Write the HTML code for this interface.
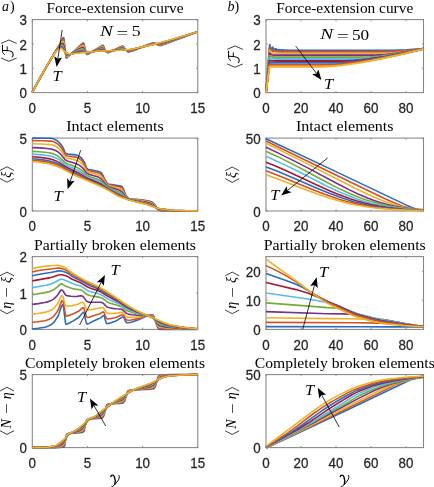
<!DOCTYPE html>
<html><head><meta charset="utf-8"><style>
html,body{margin:0;padding:0;background:#fff;}
svg{display:block;filter:blur(0.3px);}
.tk{font-family:"Liberation Sans",sans-serif;font-size:13.4px;fill:#262626;stroke:#262626;stroke-width:0.25px;}
.ti{font-family:"Liberation Serif",serif;font-size:14px;fill:#000;}
.ti2{font-family:"Liberation Serif",serif;fill:#000;}
.mi{font-family:"Liberation Serif",serif;font-style:italic;fill:#000;}
</style></head><body>
<svg width="434" height="487" viewBox="0 0 434 487">
<rect width="434" height="487" fill="#fff"/>
<rect x="32.30" y="19.60" width="165.45" height="73.00" fill="none" stroke="#858585" stroke-width="1.05"/>
<line x1="32.30" y1="92.60" x2="32.30" y2="91.00" stroke="#858585" stroke-width="0.9"/>
<line x1="32.30" y1="19.60" x2="32.30" y2="21.20" stroke="#858585" stroke-width="0.9"/>
<text transform="translate(32.30,112.70) scale(1,1.12)" class="tk" text-anchor="middle">0</text>
<line x1="87.45" y1="92.60" x2="87.45" y2="91.00" stroke="#858585" stroke-width="0.9"/>
<line x1="87.45" y1="19.60" x2="87.45" y2="21.20" stroke="#858585" stroke-width="0.9"/>
<text transform="translate(87.45,112.70) scale(1,1.12)" class="tk" text-anchor="middle">5</text>
<line x1="142.60" y1="92.60" x2="142.60" y2="91.00" stroke="#858585" stroke-width="0.9"/>
<line x1="142.60" y1="19.60" x2="142.60" y2="21.20" stroke="#858585" stroke-width="0.9"/>
<text transform="translate(142.60,112.70) scale(1,1.12)" class="tk" text-anchor="middle">10</text>
<line x1="197.75" y1="92.60" x2="197.75" y2="91.00" stroke="#858585" stroke-width="0.9"/>
<line x1="197.75" y1="19.60" x2="197.75" y2="21.20" stroke="#858585" stroke-width="0.9"/>
<text transform="translate(197.75,112.70) scale(1,1.12)" class="tk" text-anchor="middle">15</text>
<line x1="32.30" y1="92.60" x2="33.90" y2="92.60" stroke="#858585" stroke-width="0.9"/>
<line x1="197.75" y1="92.60" x2="196.15" y2="92.60" stroke="#858585" stroke-width="0.9"/>
<text transform="translate(26.90,98.20) scale(1,1.12)" class="tk" text-anchor="end">0</text>
<line x1="32.30" y1="68.27" x2="33.90" y2="68.27" stroke="#858585" stroke-width="0.9"/>
<line x1="197.75" y1="68.27" x2="196.15" y2="68.27" stroke="#858585" stroke-width="0.9"/>
<text transform="translate(26.90,73.87) scale(1,1.12)" class="tk" text-anchor="end">1</text>
<line x1="32.30" y1="43.93" x2="33.90" y2="43.93" stroke="#858585" stroke-width="0.9"/>
<line x1="197.75" y1="43.93" x2="196.15" y2="43.93" stroke="#858585" stroke-width="0.9"/>
<text transform="translate(26.90,49.53) scale(1,1.12)" class="tk" text-anchor="end">2</text>
<line x1="32.30" y1="19.60" x2="33.90" y2="19.60" stroke="#858585" stroke-width="0.9"/>
<line x1="197.75" y1="19.60" x2="196.15" y2="19.60" stroke="#858585" stroke-width="0.9"/>
<text transform="translate(26.90,25.20) scale(1,1.12)" class="tk" text-anchor="end">3</text>
<path d="M32.3,92.6L38.6,80.9L45.5,68.6L61.0,42.0L62.6,38.6L63.2,37.8L63.5,37.6L63.7,37.7L64.0,39.1L65.9,56.9L66.2,58.0L66.5,58.0L67.3,57.5L79.2,46.3L82.5,43.4L83.3,43.0L83.6,43.1L84.1,44.5L86.3,53.5L86.6,54.3L86.9,54.6L88.0,54.3L100.7,46.4L102.1,45.4L102.6,45.2L102.9,45.2L103.4,45.9L105.1,50.0L106.5,52.0L107.3,52.7L107.9,52.7L108.7,52.5L111.7,51.3L118.9,47.6L121.6,46.4L122.5,46.1L123.0,46.2L123.6,46.7L125.2,49.0L127.4,51.6L128.0,51.9L128.8,51.9L132.4,51.0L135.4,50.0L147.6,44.8L153.4,42.8L154.2,42.7L154.7,42.9L156.7,44.3L159.1,45.5L160.0,45.6L161.1,45.5L168.0,43.0L197.8,31.8" fill="none" stroke="#2a6ac0" stroke-width="1.60" stroke-linejoin="round" stroke-linecap="butt"/>
<path d="M32.3,92.3L43.1,72.9L53.3,55.1L56.8,49.1L61.0,42.5L62.4,40.1L62.9,39.4L63.2,39.2L63.5,39.3L63.7,39.9L64.0,41.2L65.9,56.1L66.2,57.0L66.5,57.3L66.8,57.3L67.3,57.0L71.2,53.8L78.9,47.2L82.5,44.4L83.0,44.1L83.3,44.1L83.6,44.4L83.9,44.9L86.3,53.4L86.6,53.9L86.9,54.2L87.2,54.3L88.3,53.9L101.8,46.1L102.6,45.9L103.2,46.2L103.4,46.7L104.5,49.1L105.4,50.6L106.5,51.9L107.3,52.4L107.9,52.5L108.7,52.3L111.4,51.3L118.9,47.8L121.6,46.8L122.5,46.6L123.0,46.7L123.6,47.2L127.2,51.2L128.0,51.6L128.8,51.7L132.4,50.8L135.4,49.8L147.6,44.9L153.4,43.0L154.2,42.9L154.7,43.1L156.7,44.2L158.9,45.2L160.0,45.3L161.1,45.1L167.7,42.8L197.8,31.8" fill="none" stroke="#d5511d" stroke-width="1.60" stroke-linejoin="round" stroke-linecap="butt"/>
<path d="M32.3,92.1L33.1,90.8L43.6,71.7L54.4,53.2L58.5,46.8L61.8,42.1L62.6,41.3L62.9,41.2L63.2,41.4L63.7,42.6L64.3,45.2L65.7,53.8L66.2,55.7L66.5,56.1L66.8,56.3L67.0,56.4L67.9,56.0L70.1,54.6L78.9,48.0L81.9,46.0L82.8,45.6L83.3,45.8L83.9,46.5L86.1,52.4L86.6,53.4L87.2,53.8L87.7,53.8L88.3,53.5L101.5,47.0L102.3,46.8L102.9,47.0L103.2,47.3L104.8,49.9L105.6,51.0L106.5,51.7L107.3,52.1L108.4,52.1L111.2,51.3L118.9,48.2L121.4,47.4L122.2,47.2L122.7,47.3L123.6,47.7L127.2,50.9L128.0,51.3L129.1,51.3L132.4,50.5L135.4,49.6L147.3,45.1L153.1,43.3L153.9,43.2L154.7,43.3L157.2,44.4L158.9,44.8L160.0,44.9L161.1,44.7L167.7,42.5L196.1,32.3L197.8,31.8" fill="none" stroke="#ecb22a" stroke-width="1.60" stroke-linejoin="round" stroke-linecap="butt"/>
<path d="M32.3,91.9L33.7,89.7L38.9,79.9L43.6,71.6L54.6,52.7L56.6,49.7L58.8,46.9L61.0,44.2L62.1,43.4L62.6,43.4L62.9,43.6L63.5,44.6L64.0,46.3L65.4,52.1L65.9,53.9L66.5,54.9L66.8,55.2L67.3,55.4L68.1,55.3L69.8,54.5L79.5,48.7L81.7,47.6L82.5,47.4L83.0,47.5L83.6,47.9L84.4,49.1L86.1,52.3L86.6,52.9L87.4,53.3L88.8,53.0L100.4,48.3L101.8,47.9L102.3,47.9L102.9,48.2L103.4,48.6L105.6,50.9L106.5,51.5L107.6,51.8L108.7,51.7L110.9,51.2L119.2,48.6L121.9,47.9L122.7,48.0L123.6,48.4L126.1,50.0L127.2,50.6L128.0,50.9L128.8,50.9L131.0,50.5L134.9,49.5L147.3,45.3L152.8,43.6L154.5,43.5L157.5,44.3L158.9,44.4L160.0,44.4L161.4,44.1L168.2,41.9L195.5,32.5L197.8,31.8" fill="none" stroke="#7b2e8b" stroke-width="1.60" stroke-linejoin="round" stroke-linecap="butt"/>
<path d="M32.3,91.9L43.1,72.4L54.4,53.2L56.0,50.7L57.4,48.9L59.9,46.3L61.3,45.2L62.1,45.1L62.9,45.8L63.7,47.4L65.1,51.3L65.9,53.2L66.8,54.3L67.3,54.6L67.9,54.7L69.0,54.6L70.1,54.2L79.5,49.8L81.1,49.2L82.2,49.0L83.0,49.1L83.6,49.5L86.3,52.4L86.9,52.7L87.7,52.9L89.1,52.6L99.0,49.5L101.5,48.9L102.3,48.9L102.9,49.1L105.9,51.0L106.8,51.3L107.6,51.5L108.7,51.4L110.3,51.1L119.2,49.0L121.6,48.6L123.3,48.8L127.2,50.4L128.0,50.5L129.1,50.5L131.6,50.0L134.9,49.2L147.3,45.4L152.5,44.0L154.5,43.8L158.9,44.0L161.4,43.6L168.2,41.5L195.0,32.6L197.8,31.8" fill="none" stroke="#76ab36" stroke-width="1.60" stroke-linejoin="round" stroke-linecap="butt"/>
<path d="M32.3,92.0L42.8,72.9L54.4,53.3L56.0,50.8L57.4,49.2L59.6,47.1L61.0,46.2L61.5,46.1L62.1,46.3L62.9,47.1L63.7,48.6L65.1,51.5L66.2,53.2L67.3,54.1L68.4,54.4L69.5,54.3L70.9,53.9L79.5,50.7L80.8,50.3L81.9,50.1L83.3,50.3L86.1,52.2L86.9,52.5L87.7,52.6L89.4,52.4L98.2,50.1L101.2,49.5L102.9,49.7L105.9,51.0L107.6,51.3L110.3,51.0L119.2,49.4L121.4,49.1L123.3,49.2L127.2,50.2L129.1,50.2L131.3,49.9L134.6,49.1L152.3,44.2L154.5,43.9L158.6,43.8L161.4,43.3L167.7,41.4L194.2,32.9L197.8,31.8" fill="none" stroke="#55bdeb" stroke-width="1.60" stroke-linejoin="round" stroke-linecap="butt"/>
<path d="M32.3,92.2L38.4,80.8L42.5,73.3L54.4,53.4L55.7,51.3L57.1,49.7L59.3,47.8L60.7,47.0L61.5,47.0L62.4,47.5L63.2,48.5L65.1,51.7L66.5,53.2L67.6,53.8L69.0,54.1L71.5,53.7L79.2,51.6L81.7,51.1L83.3,51.2L86.1,52.2L87.7,52.4L89.4,52.2L97.7,50.6L101.0,50.1L102.6,50.2L105.9,50.9L107.9,51.1L110.6,50.9L121.1,49.5L123.0,49.5L127.2,50.0L129.1,50.0L131.3,49.6L134.6,48.9L152.3,44.4L154.2,44.1L158.6,43.6L161.4,43.0L168.0,41.0L197.8,31.8" fill="none" stroke="#a41b33" stroke-width="1.60" stroke-linejoin="round" stroke-linecap="butt"/>
<path d="M32.3,92.3L37.8,81.8L42.0,74.3L45.8,67.6L54.1,53.9L55.7,51.5L57.1,49.9L59.0,48.4L60.4,47.7L61.3,47.6L62.1,48.0L62.9,48.9L65.1,51.8L66.5,53.0L67.9,53.7L69.3,54.0L72.0,53.7L78.9,52.2L81.7,51.8L83.0,51.8L86.1,52.2L87.7,52.3L97.7,50.9L100.7,50.6L102.6,50.6L105.9,50.9L107.9,51.0L121.1,49.8L126.9,49.9L129.1,49.8L133.8,49.0L152.0,44.6L158.3,43.4L161.1,42.8L168.5,40.7L197.8,31.8" fill="none" stroke="#2a6ac0" stroke-width="1.60" stroke-linejoin="round" stroke-linecap="butt"/>
<path d="M32.3,92.5L37.3,82.9L42.0,74.3L45.8,67.7L54.1,53.9L55.5,51.9L56.8,50.3L58.8,48.8L60.2,48.1L61.0,48.0L61.8,48.2L62.6,49.0L64.6,51.4L65.4,52.2L67.6,53.5L68.7,53.8L69.5,53.9L72.6,53.7L81.1,52.4L88.0,52.2L99.6,50.9L102.1,50.8L108.4,50.9L120.8,50.0L126.9,49.9L129.1,49.7L134.9,48.6L160.2,42.9L168.5,40.5L197.8,31.8" fill="none" stroke="#d5511d" stroke-width="1.60" stroke-linejoin="round" stroke-linecap="butt"/>
<path d="M32.3,92.6L37.0,83.4L41.7,74.8L45.5,68.2L54.1,54.0L55.5,52.0L56.8,50.4L58.5,49.3L59.9,48.5L61.0,48.3L61.5,48.4L62.4,49.1L64.3,51.3L65.1,52.0L67.9,53.5L69.0,53.8L69.8,53.9L72.8,53.8L79.5,53.0L96.8,51.3L120.5,50.2L128.8,49.6L135.2,48.5L149.5,45.4L156.9,43.6L168.2,40.5L197.8,31.8" fill="none" stroke="#ecb22a" stroke-width="1.60" stroke-linejoin="round" stroke-linecap="butt"/>
<rect x="32.30" y="138.10" width="165.45" height="72.90" fill="none" stroke="#858585" stroke-width="1.05"/>
<line x1="32.30" y1="211.00" x2="32.30" y2="209.40" stroke="#858585" stroke-width="0.9"/>
<line x1="32.30" y1="138.10" x2="32.30" y2="139.70" stroke="#858585" stroke-width="0.9"/>
<text transform="translate(32.30,231.10) scale(1,1.12)" class="tk" text-anchor="middle">0</text>
<line x1="87.45" y1="211.00" x2="87.45" y2="209.40" stroke="#858585" stroke-width="0.9"/>
<line x1="87.45" y1="138.10" x2="87.45" y2="139.70" stroke="#858585" stroke-width="0.9"/>
<text transform="translate(87.45,231.10) scale(1,1.12)" class="tk" text-anchor="middle">5</text>
<line x1="142.60" y1="211.00" x2="142.60" y2="209.40" stroke="#858585" stroke-width="0.9"/>
<line x1="142.60" y1="138.10" x2="142.60" y2="139.70" stroke="#858585" stroke-width="0.9"/>
<text transform="translate(142.60,231.10) scale(1,1.12)" class="tk" text-anchor="middle">10</text>
<line x1="197.75" y1="211.00" x2="197.75" y2="209.40" stroke="#858585" stroke-width="0.9"/>
<line x1="197.75" y1="138.10" x2="197.75" y2="139.70" stroke="#858585" stroke-width="0.9"/>
<text transform="translate(197.75,231.10) scale(1,1.12)" class="tk" text-anchor="middle">15</text>
<line x1="32.30" y1="211.00" x2="33.90" y2="211.00" stroke="#858585" stroke-width="0.9"/>
<line x1="197.75" y1="211.00" x2="196.15" y2="211.00" stroke="#858585" stroke-width="0.9"/>
<text transform="translate(26.90,216.60) scale(1,1.12)" class="tk" text-anchor="end">0</text>
<line x1="32.30" y1="138.10" x2="33.90" y2="138.10" stroke="#858585" stroke-width="0.9"/>
<line x1="197.75" y1="138.10" x2="196.15" y2="138.10" stroke="#858585" stroke-width="0.9"/>
<text transform="translate(26.90,143.70) scale(1,1.12)" class="tk" text-anchor="end">5</text>
<path d="M32.3,138.1L51.3,138.3L52.7,138.6L54.1,139.1L57.7,141.0L58.5,141.7L59.3,142.6L62.4,146.6L63.5,148.6L65.1,152.7L65.7,153.3L66.8,153.9L67.9,154.1L73.9,154.6L75.9,154.9L77.0,155.2L78.4,155.9L79.7,156.7L81.4,158.0L82.8,159.6L84.7,162.8L86.3,167.6L86.6,168.1L87.4,168.9L88.0,169.2L89.4,169.5L97.9,171.2L99.9,171.9L101.0,172.5L101.8,173.5L102.9,175.3L104.5,178.8L106.5,182.4L107.0,183.2L107.6,183.7L108.4,184.0L110.1,184.4L119.2,185.7L120.8,186.1L121.9,186.5L122.7,187.7L123.8,189.9L125.2,193.8L125.8,195.1L127.4,197.4L128.3,198.3L128.8,198.6L131.3,199.0L138.7,199.5L144.5,200.2L148.7,201.1L152.0,202.1L152.5,202.4L153.4,203.1L155.6,205.8L157.2,208.7L158.0,209.8L159.4,210.4L161.1,210.9L162.5,211.0L197.8,211.0" fill="none" stroke="#2a6ac0" stroke-width="1.60" stroke-linejoin="round" stroke-linecap="butt"/>
<path d="M32.3,140.6L42.2,140.7L51.1,141.1L52.4,141.3L53.8,141.8L57.1,143.5L58.2,144.3L59.0,145.1L61.5,148.0L62.9,150.1L64.8,154.1L65.4,154.9L65.9,155.3L66.8,155.7L68.1,156.0L75.6,157.1L77.0,157.5L78.4,158.2L81.1,160.0L82.8,161.8L84.4,164.5L86.3,169.0L86.9,169.7L87.4,170.1L89.1,170.8L97.7,172.7L99.6,173.3L100.7,174.0L101.5,174.8L102.6,176.4L106.2,182.8L107.0,183.9L107.6,184.4L108.4,184.7L109.8,185.1L119.4,186.9L120.8,187.3L121.6,187.7L122.5,188.6L123.3,190.0L125.2,194.5L126.1,196.0L127.4,197.7L128.3,198.4L128.8,198.7L131.3,199.2L138.5,199.8L144.3,200.6L147.8,201.3L151.1,202.3L152.5,203.0L153.9,204.3L155.6,206.2L157.2,208.8L157.8,209.4L158.9,210.1L160.8,210.6L162.5,210.8L170.2,210.9L197.8,211.0" fill="none" stroke="#d5511d" stroke-width="1.60" stroke-linejoin="round" stroke-linecap="butt"/>
<path d="M32.3,143.8L41.1,144.0L50.5,144.6L51.9,144.8L53.3,145.2L56.6,146.8L58.5,148.1L60.7,150.4L62.4,152.5L64.8,156.5L65.9,157.6L66.8,158.0L68.1,158.4L75.3,159.9L78.1,161.0L80.6,162.6L82.5,164.4L83.9,166.3L86.1,170.2L86.6,171.0L87.4,171.7L89.1,172.4L97.7,174.6L99.3,175.2L100.4,175.9L101.2,176.6L102.3,178.0L105.9,183.5L106.8,184.5L107.6,185.1L109.5,185.9L119.7,188.5L121.4,189.3L122.2,190.1L122.7,190.8L125.2,195.3L126.3,196.9L127.4,198.0L128.8,198.9L131.3,199.4L138.7,200.3L144.3,201.1L147.6,201.8L150.6,202.7L152.0,203.4L153.4,204.4L154.7,205.7L156.9,208.4L157.8,209.2L159.1,209.9L160.8,210.3L163.3,210.5L172.7,210.8L197.8,211.0" fill="none" stroke="#ecb22a" stroke-width="1.60" stroke-linejoin="round" stroke-linecap="butt"/>
<path d="M32.3,147.6L40.3,147.9L49.7,148.7L52.7,149.4L56.0,150.7L57.9,151.9L59.9,153.5L61.5,155.3L64.6,159.1L65.9,160.3L66.8,160.8L68.1,161.3L75.6,163.4L77.5,164.2L79.2,165.1L80.8,166.3L82.2,167.5L83.3,168.8L85.8,172.0L86.6,172.9L87.4,173.6L89.4,174.5L97.4,176.8L99.6,177.8L100.7,178.6L101.8,179.7L105.4,184.1L107.0,185.7L108.1,186.4L109.2,186.9L118.9,190.1L120.5,190.8L121.6,191.6L122.5,192.5L125.2,196.1L126.3,197.4L127.4,198.3L128.8,199.0L131.6,199.7L144.0,201.7L147.0,202.4L149.5,203.1L151.4,203.9L152.8,204.7L154.2,205.8L156.7,208.1L157.8,208.9L159.1,209.6L160.8,210.0L164.7,210.3L173.5,210.7L197.8,211.0" fill="none" stroke="#7b2e8b" stroke-width="1.60" stroke-linejoin="round" stroke-linecap="butt"/>
<path d="M32.3,151.4L39.7,151.8L49.1,152.8L52.7,153.6L56.0,155.0L57.9,156.1L59.6,157.3L64.3,161.8L65.9,163.0L68.1,164.1L75.3,166.7L78.9,168.4L81.4,170.1L85.8,174.3L86.9,175.1L88.0,175.8L90.2,176.7L96.8,178.9L99.3,180.0L101.5,181.6L105.4,185.4L107.3,186.9L109.5,188.0L120.3,192.6L122.2,194.0L126.3,197.8L127.7,198.7L129.1,199.3L132.4,200.1L144.0,202.3L148.7,203.5L150.6,204.2L152.3,205.0L156.4,207.9L157.8,208.7L159.1,209.2L160.8,209.6L165.8,210.2L173.8,210.6L186.7,210.9L197.8,211.0" fill="none" stroke="#76ab36" stroke-width="1.60" stroke-linejoin="round" stroke-linecap="butt"/>
<path d="M32.3,154.1L39.7,154.6L48.8,155.8L52.4,156.6L56.0,158.0L57.7,158.9L59.3,159.9L64.3,163.9L66.2,165.2L68.4,166.3L75.3,169.1L78.6,170.7L81.4,172.4L86.1,176.1L88.0,177.2L90.2,178.1L96.5,180.4L99.0,181.6L101.2,183.0L105.4,186.3L107.6,187.8L109.5,188.8L120.3,193.9L121.9,194.9L126.1,198.0L127.4,198.8L129.1,199.4L132.4,200.3L143.2,202.5L147.8,203.7L149.8,204.4L151.7,205.2L157.5,208.4L159.1,209.0L161.1,209.4L166.9,210.1L174.0,210.5L186.7,210.9L197.8,211.0" fill="none" stroke="#55bdeb" stroke-width="1.60" stroke-linejoin="round" stroke-linecap="butt"/>
<path d="M32.3,156.8L39.5,157.3L48.6,158.6L52.4,159.5L56.0,160.9L59.3,162.6L64.3,166.0L66.5,167.3L78.6,173.0L81.1,174.4L85.8,177.4L87.7,178.4L90.5,179.6L96.5,182.0L99.0,183.1L101.2,184.3L105.9,187.5L108.4,189.0L116.1,193.1L120.8,195.4L125.8,198.2L129.1,199.6L133.2,200.7L143.2,202.9L147.3,203.9L150.9,205.2L157.5,208.3L159.1,208.8L161.1,209.2L167.1,209.9L174.0,210.5L186.7,210.9L197.8,211.0" fill="none" stroke="#a41b33" stroke-width="1.60" stroke-linejoin="round" stroke-linecap="butt"/>
<path d="M32.3,158.8L35.6,159.0L39.5,159.4L48.6,160.8L52.4,161.8L56.6,163.3L59.6,164.7L66.5,168.9L78.9,174.9L86.3,178.9L89.7,180.4L97.1,183.4L100.1,184.8L117.5,194.7L125.2,198.3L128.8,199.6L133.8,201.0L147.0,204.2L150.3,205.3L157.2,208.1L159.1,208.6L161.4,209.1L167.7,209.9L174.3,210.4L187.0,210.9L197.8,211.0" fill="none" stroke="#2a6ac0" stroke-width="1.60" stroke-linejoin="round" stroke-linecap="butt"/>
<path d="M32.3,160.3L35.6,160.4L39.5,160.9L48.6,162.4L52.7,163.4L57.4,165.1L60.2,166.4L66.8,170.1L83.9,178.5L88.6,180.6L97.9,184.5L101.5,186.2L110.3,191.0L115.9,194.3L118.1,195.5L124.1,198.1L128.5,199.7L134.3,201.3L146.7,204.3L149.8,205.3L156.9,207.9L158.9,208.5L161.1,208.9L168.0,209.8L174.3,210.4L187.0,210.8L197.8,211.0" fill="none" stroke="#d5511d" stroke-width="1.60" stroke-linejoin="round" stroke-linecap="butt"/>
<path d="M32.3,161.6L35.6,161.8L39.2,162.2L48.6,163.8L52.7,164.9L57.9,166.7L61.0,168.1L73.7,174.7L78.1,176.8L99.3,185.8L104.0,188.0L110.3,191.4L115.9,194.9L118.3,196.2L122.2,197.8L126.9,199.3L134.6,201.5L146.5,204.4L156.1,207.7L158.3,208.3L160.5,208.7L167.7,209.7L174.0,210.3L186.7,210.8L197.8,211.0" fill="none" stroke="#ecb22a" stroke-width="1.60" stroke-linejoin="round" stroke-linecap="butt"/>
<rect x="32.30" y="256.60" width="165.45" height="72.80" fill="none" stroke="#858585" stroke-width="1.05"/>
<line x1="32.30" y1="329.40" x2="32.30" y2="327.80" stroke="#858585" stroke-width="0.9"/>
<line x1="32.30" y1="256.60" x2="32.30" y2="258.20" stroke="#858585" stroke-width="0.9"/>
<text transform="translate(32.30,349.50) scale(1,1.12)" class="tk" text-anchor="middle">0</text>
<line x1="87.45" y1="329.40" x2="87.45" y2="327.80" stroke="#858585" stroke-width="0.9"/>
<line x1="87.45" y1="256.60" x2="87.45" y2="258.20" stroke="#858585" stroke-width="0.9"/>
<text transform="translate(87.45,349.50) scale(1,1.12)" class="tk" text-anchor="middle">5</text>
<line x1="142.60" y1="329.40" x2="142.60" y2="327.80" stroke="#858585" stroke-width="0.9"/>
<line x1="142.60" y1="256.60" x2="142.60" y2="258.20" stroke="#858585" stroke-width="0.9"/>
<text transform="translate(142.60,349.50) scale(1,1.12)" class="tk" text-anchor="middle">10</text>
<line x1="197.75" y1="329.40" x2="197.75" y2="327.80" stroke="#858585" stroke-width="0.9"/>
<line x1="197.75" y1="256.60" x2="197.75" y2="258.20" stroke="#858585" stroke-width="0.9"/>
<text transform="translate(197.75,349.50) scale(1,1.12)" class="tk" text-anchor="middle">15</text>
<line x1="32.30" y1="329.40" x2="33.90" y2="329.40" stroke="#858585" stroke-width="0.9"/>
<line x1="197.75" y1="329.40" x2="196.15" y2="329.40" stroke="#858585" stroke-width="0.9"/>
<text transform="translate(26.90,335.00) scale(1,1.12)" class="tk" text-anchor="end">0</text>
<line x1="32.30" y1="293.00" x2="33.90" y2="293.00" stroke="#858585" stroke-width="0.9"/>
<line x1="197.75" y1="293.00" x2="196.15" y2="293.00" stroke="#858585" stroke-width="0.9"/>
<text transform="translate(26.90,298.60) scale(1,1.12)" class="tk" text-anchor="end">1</text>
<line x1="32.30" y1="256.60" x2="33.90" y2="256.60" stroke="#858585" stroke-width="0.9"/>
<line x1="197.75" y1="256.60" x2="196.15" y2="256.60" stroke="#858585" stroke-width="0.9"/>
<text transform="translate(26.90,262.20) scale(1,1.12)" class="tk" text-anchor="end">2</text>
<path d="M32.3,328.7L35.1,328.6L38.1,328.3L44.7,327.3L46.6,326.7L48.6,325.9L50.5,325.0L52.4,323.7L53.5,322.7L54.6,321.4L57.7,316.7L58.8,314.1L61.3,306.8L62.1,305.2L62.6,304.7L62.9,304.7L63.2,305.4L63.5,306.9L65.4,322.1L65.7,323.7L65.9,324.3L67.0,324.1L68.1,323.7L73.7,320.6L76.7,318.8L79.2,316.9L82.5,313.1L83.3,312.5L83.9,312.3L84.1,312.4L84.4,313.4L85.2,318.5L86.1,321.9L86.6,323.5L86.9,323.9L87.2,323.9L88.0,323.8L89.1,323.4L92.7,321.5L99.0,318.6L101.0,317.6L102.9,316.0L103.7,315.6L104.0,315.6L104.3,316.0L105.1,319.2L106.2,322.8L106.5,323.4L106.8,323.6L107.0,323.6L108.4,323.4L110.1,323.1L115.3,321.3L117.0,320.4L120.8,317.9L122.7,317.1L123.6,317.0L123.8,317.2L125.0,320.3L126.3,322.5L126.9,322.8L128.0,322.8L131.3,322.2L137.9,320.0L140.1,319.1L145.4,316.6L147.8,315.7L150.3,315.1L152.5,314.8L152.8,314.9L153.4,315.6L154.7,318.5L155.3,320.1L156.4,324.2L156.9,325.8L158.3,328.3L158.9,329.0L159.4,329.4L197.8,329.4" fill="none" stroke="#2a6ac0" stroke-width="1.60" stroke-linejoin="round" stroke-linecap="butt"/>
<path d="M32.3,322.3L38.1,321.8L44.7,320.8L46.6,320.2L48.6,319.5L50.8,318.4L52.4,317.4L53.5,316.5L54.6,315.3L57.4,311.4L58.5,309.1L61.3,301.9L61.8,300.9L62.4,300.5L62.6,300.7L62.9,301.2L63.5,303.2L65.4,314.3L65.9,315.8L66.5,316.1L67.3,315.9L72.8,313.9L77.0,312.1L79.2,310.8L82.2,308.1L82.8,307.8L83.3,307.7L83.6,307.8L83.9,308.2L84.1,308.8L86.1,315.9L86.6,317.0L86.9,317.3L87.4,317.5L89.1,317.3L92.7,315.9L99.0,313.9L100.7,313.2L102.6,312.1L103.2,312.0L103.7,312.1L104.0,312.5L104.5,313.7L105.9,317.5L106.5,318.4L107.0,318.8L108.1,318.9L109.8,318.7L115.0,317.7L116.7,317.2L120.8,315.3L121.9,315.0L122.7,314.9L123.3,315.1L123.8,315.7L125.2,318.4L126.1,319.5L126.9,320.1L127.7,320.2L129.4,320.2L131.3,320.0L137.1,318.9L139.6,318.2L147.0,315.8L149.5,315.4L152.0,315.2L152.8,315.6L153.6,316.7L154.7,319.0L156.4,323.8L157.2,325.7L158.3,327.5L158.9,328.1L159.4,328.4L160.8,328.5L170.5,328.9L197.8,329.3" fill="none" stroke="#d5511d" stroke-width="1.60" stroke-linejoin="round" stroke-linecap="butt"/>
<path d="M32.3,314.1L38.1,313.5L44.7,312.4L48.6,311.3L51.9,309.7L53.0,309.0L54.1,308.0L56.6,305.1L58.2,302.5L61.0,296.6L61.5,295.9L62.1,295.8L62.6,296.2L63.2,297.4L64.8,303.2L65.4,304.7L65.9,305.7L66.2,306.0L66.8,306.2L72.3,305.6L75.9,304.8L78.4,304.0L81.4,302.4L82.5,302.1L83.3,302.6L83.9,303.3L85.5,307.2L86.3,308.8L86.9,309.5L87.7,309.9L89.4,309.9L93.2,309.2L99.0,308.3L101.8,307.6L102.6,307.6L103.2,307.8L103.7,308.2L105.9,311.9L106.5,312.5L107.3,313.1L108.1,313.3L109.5,313.5L114.2,313.4L116.4,313.2L120.3,312.4L121.9,312.3L122.7,312.6L123.3,313.0L126.1,316.3L126.9,316.8L128.0,317.2L131.3,317.4L136.5,317.2L139.6,316.9L147.0,315.7L150.0,315.6L151.7,315.8L152.8,316.4L153.9,317.9L156.7,323.8L157.8,325.6L158.9,326.7L160.2,327.3L166.0,328.0L171.8,328.4L183.7,328.9L197.8,329.3" fill="none" stroke="#ecb22a" stroke-width="1.60" stroke-linejoin="round" stroke-linecap="butt"/>
<path d="M32.3,304.4L38.4,303.6L44.7,302.5L48.3,301.6L51.3,300.4L53.5,299.1L55.7,297.2L57.7,294.9L60.4,290.7L61.3,290.0L61.8,290.0L62.4,290.2L62.9,290.8L65.4,294.7L65.9,295.2L66.8,295.6L70.9,296.3L73.9,296.5L77.2,296.4L80.8,295.8L81.9,295.9L82.8,296.3L83.6,297.1L86.3,300.8L87.2,301.5L88.0,301.9L89.7,302.2L100.4,302.3L102.1,302.6L103.4,303.4L106.2,306.3L107.0,306.9L107.9,307.3L109.5,307.8L112.5,308.4L115.6,308.7L119.7,309.0L121.4,309.3L123.0,310.2L126.3,313.1L127.4,313.7L128.5,314.1L131.8,314.7L136.8,315.3L139.8,315.5L147.3,315.6L149.8,315.9L151.1,316.2L152.5,317.0L153.6,318.1L156.7,322.8L157.8,324.2L159.1,325.4L160.5,326.0L166.3,327.1L172.1,327.7L183.7,328.6L197.8,329.2" fill="none" stroke="#7b2e8b" stroke-width="1.60" stroke-linejoin="round" stroke-linecap="butt"/>
<path d="M32.3,294.7L45.0,292.6L48.3,291.9L50.8,291.1L53.0,290.1L55.2,288.7L56.8,287.4L60.2,284.3L61.0,283.9L61.8,283.9L62.9,284.3L64.8,285.7L65.9,286.3L71.5,288.3L74.8,289.1L80.0,289.8L81.7,290.2L83.3,291.3L86.6,294.3L88.6,295.3L90.5,295.8L98.8,297.1L101.5,297.9L103.2,298.8L106.2,301.2L108.1,302.4L111.2,303.5L118.9,305.8L120.5,306.4L122.5,307.4L126.6,310.4L129.4,311.6L132.9,312.8L137.1,313.8L140.4,314.5L147.6,315.6L149.5,316.1L150.9,316.5L152.3,317.3L153.4,318.2L156.7,321.8L158.0,323.2L159.4,324.1L161.1,324.8L167.1,326.3L172.9,327.2L184.2,328.3L197.8,329.1" fill="none" stroke="#76ab36" stroke-width="1.60" stroke-linejoin="round" stroke-linecap="butt"/>
<path d="M32.3,287.6L46.1,285.2L49.9,284.4L52.2,283.6L54.1,282.8L59.9,279.5L61.0,279.2L62.4,279.3L67.6,281.2L70.6,282.8L72.6,283.6L75.3,284.5L79.7,285.8L81.1,286.3L83.0,287.4L86.6,290.0L88.8,291.1L90.8,291.7L97.1,293.3L101.0,294.7L102.9,295.7L106.5,298.2L108.1,299.1L110.6,300.3L120.0,304.3L122.2,305.6L126.6,308.5L129.9,310.2L133.8,311.7L137.6,313.0L147.8,315.7L150.9,316.8L152.3,317.5L153.4,318.3L156.9,321.4L158.3,322.4L159.7,323.2L161.4,323.9L164.1,324.8L167.4,325.7L169.9,326.2L173.2,326.7L184.5,328.0L197.8,329.0" fill="none" stroke="#55bdeb" stroke-width="1.60" stroke-linejoin="round" stroke-linecap="butt"/>
<path d="M32.3,280.9L50.5,277.6L53.5,276.8L58.5,275.0L59.9,274.7L61.8,274.7L65.1,275.5L67.6,276.4L70.9,278.5L72.8,279.6L81.1,283.1L86.3,286.2L88.3,287.3L90.5,288.2L96.8,290.3L101.0,292.1L108.7,296.8L119.4,302.4L126.6,307.0L129.9,308.9L134.1,310.8L138.2,312.5L148.1,315.8L150.9,316.9L153.4,318.2L158.3,321.6L161.4,323.1L164.4,324.2L167.7,325.2L170.2,325.8L173.5,326.4L184.5,327.8L197.8,329.0" fill="none" stroke="#a41b33" stroke-width="1.60" stroke-linejoin="round" stroke-linecap="butt"/>
<path d="M32.3,275.7L39.5,274.2L50.5,272.5L58.8,270.9L59.9,270.9L61.3,271.0L64.8,271.9L66.2,272.5L67.6,273.2L71.2,275.7L72.8,276.7L80.8,280.7L87.7,284.5L90.2,285.7L96.5,288.2L101.2,290.5L108.7,295.0L117.2,299.9L126.9,306.2L131.3,308.7L135.4,310.7L139.3,312.5L151.4,317.2L153.9,318.4L158.6,321.1L161.4,322.4L164.7,323.7L167.7,324.7L170.2,325.4L173.5,326.0L178.7,326.9L184.5,327.6L197.8,328.9" fill="none" stroke="#2a6ac0" stroke-width="1.60" stroke-linejoin="round" stroke-linecap="butt"/>
<path d="M32.3,272.0L37.5,270.8L42.2,270.0L56.6,268.2L58.5,268.0L59.6,268.1L62.4,268.8L64.8,269.6L66.2,270.3L67.9,271.3L71.2,273.8L72.8,274.9L86.9,282.5L89.9,284.0L96.3,286.7L101.2,289.3L115.3,297.8L128.5,306.5L134.6,309.9L140.4,312.7L152.3,317.6L163.0,322.6L166.3,323.9L169.1,324.8L174.3,325.9L181.5,327.1L189.5,328.1L197.8,328.9" fill="none" stroke="#d5511d" stroke-width="1.60" stroke-linejoin="round" stroke-linecap="butt"/>
<path d="M32.3,268.6L39.7,267.0L46.4,266.1L53.0,265.5L57.7,265.3L59.3,265.5L61.0,266.0L64.6,267.5L65.9,268.3L72.3,273.0L77.5,276.1L87.4,281.6L96.0,285.5L102.1,288.8L114.2,296.4L124.7,303.5L128.5,306.0L135.4,310.0L141.5,313.0L155.6,318.9L164.7,322.9L169.3,324.6L174.9,325.8L181.8,327.0L189.5,328.0L197.8,328.9" fill="none" stroke="#ecb22a" stroke-width="1.60" stroke-linejoin="round" stroke-linecap="butt"/>
<rect x="32.30" y="374.60" width="165.45" height="73.00" fill="none" stroke="#858585" stroke-width="1.05"/>
<line x1="32.30" y1="447.60" x2="32.30" y2="446.00" stroke="#858585" stroke-width="0.9"/>
<line x1="32.30" y1="374.60" x2="32.30" y2="376.20" stroke="#858585" stroke-width="0.9"/>
<text transform="translate(32.30,467.70) scale(1,1.12)" class="tk" text-anchor="middle">0</text>
<line x1="87.45" y1="447.60" x2="87.45" y2="446.00" stroke="#858585" stroke-width="0.9"/>
<line x1="87.45" y1="374.60" x2="87.45" y2="376.20" stroke="#858585" stroke-width="0.9"/>
<text transform="translate(87.45,467.70) scale(1,1.12)" class="tk" text-anchor="middle">5</text>
<line x1="142.60" y1="447.60" x2="142.60" y2="446.00" stroke="#858585" stroke-width="0.9"/>
<line x1="142.60" y1="374.60" x2="142.60" y2="376.20" stroke="#858585" stroke-width="0.9"/>
<text transform="translate(142.60,467.70) scale(1,1.12)" class="tk" text-anchor="middle">10</text>
<line x1="197.75" y1="447.60" x2="197.75" y2="446.00" stroke="#858585" stroke-width="0.9"/>
<line x1="197.75" y1="374.60" x2="197.75" y2="376.20" stroke="#858585" stroke-width="0.9"/>
<text transform="translate(197.75,467.70) scale(1,1.12)" class="tk" text-anchor="middle">15</text>
<line x1="32.30" y1="447.60" x2="33.90" y2="447.60" stroke="#858585" stroke-width="0.9"/>
<line x1="197.75" y1="447.60" x2="196.15" y2="447.60" stroke="#858585" stroke-width="0.9"/>
<text transform="translate(26.90,453.20) scale(1,1.12)" class="tk" text-anchor="end">0</text>
<line x1="32.30" y1="374.60" x2="33.90" y2="374.60" stroke="#858585" stroke-width="0.9"/>
<line x1="197.75" y1="374.60" x2="196.15" y2="374.60" stroke="#858585" stroke-width="0.9"/>
<text transform="translate(26.90,380.20) scale(1,1.12)" class="tk" text-anchor="end">5</text>
<path d="M32.3,447.6L56.8,447.6L62.4,447.3L63.5,447.1L64.3,446.4L64.6,445.7L66.2,435.9L66.5,434.6L66.8,434.1L67.6,433.7L69.0,433.4L72.0,433.1L80.0,432.8L82.2,432.5L83.0,432.1L83.9,431.3L84.1,430.6L86.3,421.3L86.6,420.3L86.9,419.9L88.0,419.3L89.4,418.9L92.1,418.7L99.3,418.4L101.8,418.1L102.3,417.9L103.2,417.0L103.7,415.9L105.4,410.1L106.2,406.5L106.8,404.9L107.9,404.2L109.2,403.9L112.3,403.7L119.7,403.4L123.0,403.0L123.8,402.2L124.7,400.9L126.1,396.5L127.4,391.6L127.7,391.1L128.3,390.7L129.6,390.3L132.7,389.9L147.8,389.4L151.7,389.0L153.9,388.6L154.5,388.0L155.0,387.1L155.6,385.8L158.0,377.1L158.3,376.5L158.6,376.3L159.4,375.8L160.8,375.4L163.0,375.1L168.8,374.6L197.8,374.6" fill="none" stroke="#2a6ac0" stroke-width="1.60" stroke-linejoin="round" stroke-linecap="butt"/>
<path d="M32.3,447.6L46.4,447.6L55.7,447.4L61.3,446.8L62.4,446.6L63.2,446.3L63.7,445.8L64.3,444.7L64.8,442.9L66.5,436.0L67.0,434.7L67.6,434.0L68.4,433.6L69.8,433.3L77.5,432.5L80.3,432.1L81.9,431.8L82.8,431.3L83.6,430.4L84.1,429.2L86.3,421.9L86.9,420.6L87.7,419.6L88.6,419.2L89.9,418.8L96.8,418.2L100.4,417.6L101.8,417.2L102.6,416.6L103.4,415.4L104.0,414.1L106.5,406.4L107.0,405.4L107.6,404.8L108.4,404.3L110.1,403.9L120.5,402.7L122.2,402.4L123.0,402.0L123.8,401.3L124.7,399.9L127.4,392.4L128.3,391.2L129.1,390.7L131.0,390.2L134.9,389.7L149.2,388.7L152.5,388.2L153.6,387.8L154.5,387.1L155.3,385.6L157.5,379.3L158.3,377.4L158.9,376.7L159.7,376.1L161.1,375.7L163.6,375.3L168.8,374.8L197.8,374.6" fill="none" stroke="#d5511d" stroke-width="1.60" stroke-linejoin="round" stroke-linecap="butt"/>
<path d="M32.3,447.6L46.1,447.5L54.9,447.2L58.5,446.7L61.0,446.1L62.1,445.6L63.2,444.7L64.0,443.5L64.8,441.6L66.8,436.3L67.3,435.3L68.1,434.2L69.0,433.6L69.8,433.3L78.6,431.8L80.6,431.2L81.9,430.6L82.8,429.9L83.6,428.7L84.4,427.1L86.6,421.9L87.2,420.9L88.0,419.8L88.8,419.3L89.7,418.9L97.7,417.5L100.4,416.7L101.8,415.9L102.9,414.8L103.7,413.4L106.8,406.7L107.6,405.6L108.4,404.8L109.2,404.4L110.6,403.9L120.3,401.9L121.6,401.5L122.5,401.1L123.6,400.2L124.4,399.1L126.9,394.1L128.0,392.3L128.8,391.4L129.9,390.8L131.8,390.2L135.2,389.6L149.5,387.9L151.7,387.5L153.1,386.9L154.2,386.0L155.0,384.9L157.8,379.3L158.6,378.0L159.4,377.1L160.5,376.4L161.9,375.9L164.1,375.5L169.3,375.0L182.6,374.7L197.8,374.6" fill="none" stroke="#ecb22a" stroke-width="1.60" stroke-linejoin="round" stroke-linecap="butt"/>
<path d="M32.3,447.6L46.1,447.5L54.1,447.0L56.0,446.7L57.4,446.4L59.3,445.8L61.0,445.0L62.4,444.0L63.7,442.4L64.8,440.6L67.3,435.9L68.1,434.7L68.7,434.2L69.5,433.6L70.6,433.2L76.4,431.7L78.9,430.9L80.3,430.3L81.4,429.6L82.5,428.6L83.3,427.6L84.4,425.9L86.9,421.7L88.3,420.0L89.1,419.4L90.2,418.8L96.5,417.2L99.3,416.0L101.0,415.1L102.1,414.2L103.2,412.9L106.2,408.1L107.3,406.6L108.1,405.7L109.2,404.8L111.4,403.7L119.7,401.1L121.9,400.1L123.0,399.3L124.1,398.1L127.2,394.0L128.3,392.6L129.6,391.5L131.0,390.7L132.9,390.1L135.7,389.4L148.9,387.1L150.9,386.6L152.3,386.1L153.6,385.1L154.7,384.0L157.8,379.8L158.9,378.5L160.0,377.5L161.4,376.7L162.7,376.2L164.7,375.7L170.5,375.1L184.5,374.7L197.8,374.6" fill="none" stroke="#7b2e8b" stroke-width="1.60" stroke-linejoin="round" stroke-linecap="butt"/>
<path d="M32.3,447.6L45.8,447.4L51.6,447.0L56.3,446.3L57.7,445.8L59.0,445.2L61.3,443.7L63.2,442.0L65.1,439.5L67.6,435.6L69.0,434.2L70.9,433.1L77.8,430.6L79.2,429.9L80.6,429.0L81.9,427.9L83.0,426.7L84.7,424.7L86.9,421.6L88.3,420.1L89.4,419.3L90.5,418.8L94.9,417.3L96.5,416.6L98.5,415.6L100.4,414.3L101.8,413.2L102.9,412.1L107.6,406.7L108.7,405.6L110.1,404.6L112.3,403.4L119.2,400.4L121.6,399.1L123.8,397.4L127.4,393.7L128.8,392.5L130.2,391.5L131.8,390.6L133.8,389.9L136.0,389.2L148.4,386.4L150.3,385.8L152.0,385.1L153.4,384.2L154.5,383.3L159.1,378.7L160.5,377.7L162.2,376.8L163.6,376.3L165.2,376.0L171.3,375.3L185.3,374.8L197.8,374.6" fill="none" stroke="#76ab36" stroke-width="1.60" stroke-linejoin="round" stroke-linecap="butt"/>
<path d="M32.3,447.6L41.1,447.5L47.2,447.3L54.9,446.4L56.6,446.0L57.9,445.3L60.7,443.5L63.5,441.1L65.1,439.2L67.6,435.5L68.7,434.4L70.6,433.2L77.5,430.2L80.0,428.7L81.4,427.6L83.0,426.0L87.2,421.1L88.3,420.1L90.5,418.7L95.7,416.6L98.8,414.8L102.1,412.2L107.6,406.8L109.0,405.6L110.6,404.4L113.1,402.9L119.2,399.8L121.6,398.3L123.8,396.7L128.5,392.8L131.6,390.9L133.5,390.0L135.7,389.2L146.7,386.3L150.9,384.9L152.5,384.0L153.9,383.1L159.4,378.7L162.5,377.1L164.1,376.5L165.8,376.1L171.8,375.4L185.9,374.8L197.8,374.6" fill="none" stroke="#55bdeb" stroke-width="1.60" stroke-linejoin="round" stroke-linecap="butt"/>
<path d="M32.3,447.6L40.6,447.5L46.9,447.3L54.6,446.2L56.3,445.8L57.7,445.1L60.2,443.4L64.0,440.1L65.1,438.9L67.3,435.7L68.4,434.5L70.1,433.4L77.0,430.1L79.7,428.3L82.8,425.7L84.7,423.7L87.2,420.9L88.3,419.9L90.2,418.7L94.6,416.9L96.5,415.8L101.8,411.8L107.6,406.7L110.6,404.4L113.6,402.4L121.6,397.7L129.9,391.9L131.8,390.8L133.8,389.9L137.1,388.6L147.0,385.7L150.6,384.3L153.4,382.9L158.3,379.6L160.2,378.4L162.7,377.2L164.7,376.5L168.8,375.8L173.5,375.4L186.7,374.8L197.8,374.6" fill="none" stroke="#a41b33" stroke-width="1.60" stroke-linejoin="round" stroke-linecap="butt"/>
<path d="M32.3,447.6L40.0,447.5L46.6,447.3L53.8,446.2L56.0,445.7L57.1,445.2L59.3,443.7L64.3,439.5L65.4,438.3L67.6,435.1L68.4,434.3L69.8,433.4L72.8,432.0L76.1,430.2L79.5,428.1L83.0,425.0L85.0,423.1L87.2,420.6L88.0,419.9L89.9,418.7L94.1,417.0L95.7,416.1L102.3,411.0L108.7,405.8L112.0,403.4L129.6,392.1L132.1,390.7L134.6,389.5L137.4,388.4L146.2,385.6L150.3,384.0L153.1,382.7L158.3,379.6L160.8,378.3L163.0,377.2L164.9,376.6L169.3,375.9L174.6,375.4L187.3,374.8L197.8,374.6" fill="none" stroke="#2a6ac0" stroke-width="1.60" stroke-linejoin="round" stroke-linecap="butt"/>
<path d="M32.3,447.6L40.0,447.5L46.6,447.2L53.8,446.2L56.0,445.6L57.1,445.1L59.0,443.7L64.3,439.4L65.4,438.2L67.3,435.3L68.4,434.1L69.8,433.3L72.6,432.0L75.3,430.5L79.2,428.1L83.0,424.8L85.0,422.9L87.2,420.4L88.0,419.7L89.9,418.6L93.8,417.0L95.4,416.1L108.7,405.8L114.7,401.4L119.7,398.2L129.1,392.4L132.4,390.5L134.9,389.3L137.4,388.3L145.6,385.5L150.0,383.8L152.8,382.6L158.0,379.7L161.4,378.1L163.3,377.2L164.9,376.7L169.6,375.9L175.1,375.5L187.3,374.8L197.8,374.6" fill="none" stroke="#d5511d" stroke-width="1.60" stroke-linejoin="round" stroke-linecap="butt"/>
<path d="M32.3,447.6L40.0,447.5L46.6,447.2L53.8,446.1L55.7,445.6L56.8,445.1L58.8,443.8L64.6,438.9L65.4,438.0L67.3,435.2L68.1,434.2L69.5,433.3L72.6,431.9L74.8,430.7L78.9,428.1L80.8,426.5L83.0,424.5L85.0,422.7L87.2,420.3L88.0,419.6L89.7,418.6L93.5,417.0L95.4,416.0L100.1,412.2L108.7,405.7L117.5,399.4L125.0,394.8L131.8,390.8L135.2,389.1L150.0,383.6L152.5,382.5L158.0,379.6L161.6,378.0L163.6,377.2L164.9,376.8L170.2,375.9L176.0,375.5L187.8,374.8L197.8,374.6" fill="none" stroke="#ecb22a" stroke-width="1.60" stroke-linejoin="round" stroke-linecap="butt"/>
<rect x="266.00" y="19.60" width="157.50" height="73.00" fill="none" stroke="#858585" stroke-width="1.05"/>
<line x1="266.00" y1="92.60" x2="266.00" y2="91.00" stroke="#858585" stroke-width="0.9"/>
<line x1="266.00" y1="19.60" x2="266.00" y2="21.20" stroke="#858585" stroke-width="0.9"/>
<text transform="translate(266.00,112.70) scale(1,1.12)" class="tk" text-anchor="middle">0</text>
<line x1="301.00" y1="92.60" x2="301.00" y2="91.00" stroke="#858585" stroke-width="0.9"/>
<line x1="301.00" y1="19.60" x2="301.00" y2="21.20" stroke="#858585" stroke-width="0.9"/>
<text transform="translate(301.00,112.70) scale(1,1.12)" class="tk" text-anchor="middle">20</text>
<line x1="336.00" y1="92.60" x2="336.00" y2="91.00" stroke="#858585" stroke-width="0.9"/>
<line x1="336.00" y1="19.60" x2="336.00" y2="21.20" stroke="#858585" stroke-width="0.9"/>
<text transform="translate(336.00,112.70) scale(1,1.12)" class="tk" text-anchor="middle">40</text>
<line x1="371.00" y1="92.60" x2="371.00" y2="91.00" stroke="#858585" stroke-width="0.9"/>
<line x1="371.00" y1="19.60" x2="371.00" y2="21.20" stroke="#858585" stroke-width="0.9"/>
<text transform="translate(371.00,112.70) scale(1,1.12)" class="tk" text-anchor="middle">60</text>
<line x1="406.00" y1="92.60" x2="406.00" y2="91.00" stroke="#858585" stroke-width="0.9"/>
<line x1="406.00" y1="19.60" x2="406.00" y2="21.20" stroke="#858585" stroke-width="0.9"/>
<text transform="translate(406.00,112.70) scale(1,1.12)" class="tk" text-anchor="middle">80</text>
<line x1="266.00" y1="92.60" x2="267.60" y2="92.60" stroke="#858585" stroke-width="0.9"/>
<line x1="423.50" y1="92.60" x2="421.90" y2="92.60" stroke="#858585" stroke-width="0.9"/>
<text transform="translate(260.60,98.20) scale(1,1.12)" class="tk" text-anchor="end">0</text>
<line x1="266.00" y1="68.27" x2="267.60" y2="68.27" stroke="#858585" stroke-width="0.9"/>
<line x1="423.50" y1="68.27" x2="421.90" y2="68.27" stroke="#858585" stroke-width="0.9"/>
<text transform="translate(260.60,73.87) scale(1,1.12)" class="tk" text-anchor="end">1</text>
<line x1="266.00" y1="43.93" x2="267.60" y2="43.93" stroke="#858585" stroke-width="0.9"/>
<line x1="423.50" y1="43.93" x2="421.90" y2="43.93" stroke="#858585" stroke-width="0.9"/>
<text transform="translate(260.60,49.53) scale(1,1.12)" class="tk" text-anchor="end">2</text>
<line x1="266.00" y1="19.60" x2="267.60" y2="19.60" stroke="#858585" stroke-width="0.9"/>
<line x1="423.50" y1="19.60" x2="421.90" y2="19.60" stroke="#858585" stroke-width="0.9"/>
<text transform="translate(260.60,25.20) scale(1,1.12)" class="tk" text-anchor="end">3</text>
<path d="M266.0,92.6L269.8,44.7L269.9,49.6L271.7,48.0L272.9,47.3L272.9,50.0L274.8,49.2L276.0,48.8L276.0,50.2L279.0,49.6L279.1,50.3L282.1,50.0L282.1,50.3L285.1,50.2L285.2,50.4L288.2,50.3L288.3,50.4L392.6,50.4L406.5,49.9L423.5,48.8" fill="none" stroke="#2a6ac0" stroke-width="1.90" stroke-linejoin="round" stroke-linecap="butt"/>
<path d="M266.0,92.6L269.7,47.5L269.8,50.4L271.5,50.2L272.8,50.2L272.8,51.3L275.8,51.2L275.9,51.6L278.9,51.6L279.0,51.7L282.0,51.7L387.5,51.7L395.0,51.4L403.8,50.8L413.3,49.9L423.5,48.8" fill="none" stroke="#d5511d" stroke-width="1.90" stroke-linejoin="round" stroke-linecap="butt"/>
<path d="M266.0,92.6L269.6,50.4L270.7,51.9L271.4,52.5L272.1,52.9L274.0,53.4L276.9,53.6L382.0,53.7L390.2,53.2L400.5,52.2L411.6,50.7L423.5,48.8" fill="none" stroke="#ecb22a" stroke-width="1.90" stroke-linejoin="round" stroke-linecap="butt"/>
<path d="M266.0,92.6L269.5,53.3L270.6,54.3L272.0,54.9L273.9,55.2L276.7,55.3L375.5,55.3L385.3,54.7L397.1,53.3L409.9,51.3L423.5,48.8" fill="none" stroke="#7b2e8b" stroke-width="1.90" stroke-linejoin="round" stroke-linecap="butt"/>
<path d="M266.0,92.6L269.4,55.9L270.5,56.4L272.0,56.8L273.8,57.0L276.6,57.1L369.0,57.0L374.3,56.7L380.4,56.1L393.7,54.3L408.1,51.9L423.5,48.8" fill="none" stroke="#76ab36" stroke-width="1.90" stroke-linejoin="round" stroke-linecap="butt"/>
<path d="M266.0,92.6L269.4,58.4L270.6,58.7L272.0,58.9L277.0,59.0L356.7,59.0L361.6,58.8L367.8,58.3L374.8,57.6L389.9,55.4L406.2,52.5L423.5,48.8" fill="none" stroke="#55bdeb" stroke-width="1.90" stroke-linejoin="round" stroke-linecap="butt"/>
<path d="M266.0,92.6L269.4,60.6L271.8,60.9L276.1,61.0L345.8,61.0L354.1,60.5L361.3,59.9L369.1,59.0L377.5,57.8L386.1,56.4L404.3,53.0L423.5,48.8" fill="none" stroke="#a41b33" stroke-width="1.90" stroke-linejoin="round" stroke-linecap="butt"/>
<path d="M266.0,92.6L269.4,62.7L275.8,62.9L336.8,62.9L342.1,62.7L348.6,62.2L356.6,61.4L365.1,60.3L374.1,58.9L383.4,57.3L393.0,55.5L402.9,53.5L423.5,48.8" fill="none" stroke="#2a6ac0" stroke-width="1.90" stroke-linejoin="round" stroke-linecap="butt"/>
<path d="M266.0,92.6L269.4,64.7L275.7,64.9L329.6,64.9L336.4,64.5L344.8,63.8L353.2,62.8L362.2,61.5L371.7,60.0L381.5,58.2L391.6,56.2L402.0,54.0L412.6,51.5L423.5,48.8" fill="none" stroke="#d5511d" stroke-width="1.90" stroke-linejoin="round" stroke-linecap="butt"/>
<path d="M266.0,92.6L269.4,66.7L322.5,66.8L331.0,66.3L341.4,65.3L350.4,64.1L359.8,62.7L369.7,61.0L379.9,59.0L390.4,56.8L401.2,54.4L412.2,51.7L423.5,48.8" fill="none" stroke="#ecb22a" stroke-width="1.90" stroke-linejoin="round" stroke-linecap="butt"/>
<rect x="266.00" y="138.10" width="157.50" height="72.90" fill="none" stroke="#858585" stroke-width="1.05"/>
<line x1="266.00" y1="211.00" x2="266.00" y2="209.40" stroke="#858585" stroke-width="0.9"/>
<line x1="266.00" y1="138.10" x2="266.00" y2="139.70" stroke="#858585" stroke-width="0.9"/>
<text transform="translate(266.00,231.10) scale(1,1.12)" class="tk" text-anchor="middle">0</text>
<line x1="301.00" y1="211.00" x2="301.00" y2="209.40" stroke="#858585" stroke-width="0.9"/>
<line x1="301.00" y1="138.10" x2="301.00" y2="139.70" stroke="#858585" stroke-width="0.9"/>
<text transform="translate(301.00,231.10) scale(1,1.12)" class="tk" text-anchor="middle">20</text>
<line x1="336.00" y1="211.00" x2="336.00" y2="209.40" stroke="#858585" stroke-width="0.9"/>
<line x1="336.00" y1="138.10" x2="336.00" y2="139.70" stroke="#858585" stroke-width="0.9"/>
<text transform="translate(336.00,231.10) scale(1,1.12)" class="tk" text-anchor="middle">40</text>
<line x1="371.00" y1="211.00" x2="371.00" y2="209.40" stroke="#858585" stroke-width="0.9"/>
<line x1="371.00" y1="138.10" x2="371.00" y2="139.70" stroke="#858585" stroke-width="0.9"/>
<text transform="translate(371.00,231.10) scale(1,1.12)" class="tk" text-anchor="middle">60</text>
<line x1="406.00" y1="211.00" x2="406.00" y2="209.40" stroke="#858585" stroke-width="0.9"/>
<line x1="406.00" y1="138.10" x2="406.00" y2="139.70" stroke="#858585" stroke-width="0.9"/>
<text transform="translate(406.00,231.10) scale(1,1.12)" class="tk" text-anchor="middle">80</text>
<line x1="266.00" y1="211.00" x2="267.60" y2="211.00" stroke="#858585" stroke-width="0.9"/>
<line x1="423.50" y1="211.00" x2="421.90" y2="211.00" stroke="#858585" stroke-width="0.9"/>
<text transform="translate(260.60,216.60) scale(1,1.12)" class="tk" text-anchor="end">0</text>
<line x1="266.00" y1="138.10" x2="267.60" y2="138.10" stroke="#858585" stroke-width="0.9"/>
<line x1="423.50" y1="138.10" x2="421.90" y2="138.10" stroke="#858585" stroke-width="0.9"/>
<text transform="translate(260.60,143.70) scale(1,1.12)" class="tk" text-anchor="end">50</text>
<path d="M266.0,138.8L329.1,168.4L406.9,205.4L412.0,207.6L416.0,209.0L419.7,210.0L423.5,210.5" fill="none" stroke="#2a6ac0" stroke-width="1.60" stroke-linejoin="round" stroke-linecap="butt"/>
<path d="M266.0,141.0L371.4,192.2L384.5,198.5L393.0,202.3L401.5,205.8L405.2,207.1L408.7,208.1L412.1,208.9L415.7,209.6L419.4,210.1L423.5,210.4" fill="none" stroke="#d5511d" stroke-width="1.60" stroke-linejoin="round" stroke-linecap="butt"/>
<path d="M266.0,143.3L300.5,160.4L356.1,188.7L367.8,194.3L377.4,198.6L383.4,201.0L389.1,203.1L394.6,204.8L400.0,206.3L405.5,207.5L411.1,208.4L417.0,209.2L423.5,209.8" fill="none" stroke="#ecb22a" stroke-width="1.60" stroke-linejoin="round" stroke-linecap="butt"/>
<path d="M266.0,147.3L280.5,154.1L295.6,161.6L309.6,168.9L337.0,183.5L348.0,189.1L358.6,194.2L368.2,198.3L374.7,200.7L381.1,202.8L387.5,204.6L394.0,206.1L400.7,207.4L407.8,208.4L415.2,209.2L423.5,209.8" fill="none" stroke="#7b2e8b" stroke-width="1.60" stroke-linejoin="round" stroke-linecap="butt"/>
<path d="M266.0,151.3L277.2,156.4L289.2,162.4L300.6,168.3L325.7,181.8L337.6,187.9L349.6,193.5L355.1,195.8L360.6,198.0L367.8,200.5L374.9,202.6L382.1,204.4L389.5,206.0L397.1,207.3L405.2,208.3L413.9,209.2L423.5,209.8" fill="none" stroke="#76ab36" stroke-width="1.60" stroke-linejoin="round" stroke-linecap="butt"/>
<path d="M266.0,156.3L276.3,160.9L287.4,166.1L298.0,171.3L322.2,183.7L334.2,189.6L340.6,192.5L346.7,195.0L352.6,197.3L358.3,199.4L365.5,201.7L372.8,203.7L380.1,205.3L387.7,206.7L395.7,207.9L404.1,208.8L413.3,209.6L423.5,210.1" fill="none" stroke="#55bdeb" stroke-width="1.60" stroke-linejoin="round" stroke-linecap="butt"/>
<path d="M266.0,162.2L275.5,166.0L285.7,170.5L319.0,186.0L331.2,191.5L337.9,194.2L344.1,196.6L350.2,198.8L356.2,200.7L363.6,202.8L370.9,204.6L378.5,206.1L386.3,207.4L394.5,208.4L403.3,209.2L412.8,209.8L423.5,210.3" fill="none" stroke="#a41b33" stroke-width="1.60" stroke-linejoin="round" stroke-linecap="butt"/>
<path d="M266.0,167.0L275.0,170.3L284.6,174.2L317.0,188.2L329.3,193.3L336.0,195.8L342.3,198.1L348.5,200.1L354.6,201.9L362.0,203.8L369.5,205.4L377.1,206.7L385.1,207.9L393.5,208.8L402.5,209.5L412.3,210.0L423.5,210.4" fill="none" stroke="#2a6ac0" stroke-width="1.60" stroke-linejoin="round" stroke-linecap="butt"/>
<path d="M266.0,170.8L280.8,176.4L311.1,188.9L324.1,194.0L331.3,196.6L338.2,198.9L344.9,200.9L351.4,202.6L359.0,204.4L366.7,205.9L374.7,207.2L383.0,208.2L391.7,209.1L401.2,209.7L411.6,210.2L423.5,210.5" fill="none" stroke="#d5511d" stroke-width="1.60" stroke-linejoin="round" stroke-linecap="butt"/>
<path d="M266.0,174.7L279.0,179.4L308.4,190.7L321.6,195.5L329.0,197.9L336.0,200.0L342.8,201.9L349.6,203.6L357.2,205.2L365.0,206.5L373.1,207.7L381.6,208.6L390.5,209.4L400.3,209.9L411.1,210.3L423.5,210.6" fill="none" stroke="#ecb22a" stroke-width="1.60" stroke-linejoin="round" stroke-linecap="butt"/>
<rect x="266.00" y="256.60" width="157.50" height="72.80" fill="none" stroke="#858585" stroke-width="1.05"/>
<line x1="266.00" y1="329.40" x2="266.00" y2="327.80" stroke="#858585" stroke-width="0.9"/>
<line x1="266.00" y1="256.60" x2="266.00" y2="258.20" stroke="#858585" stroke-width="0.9"/>
<text transform="translate(266.00,349.50) scale(1,1.12)" class="tk" text-anchor="middle">0</text>
<line x1="301.00" y1="329.40" x2="301.00" y2="327.80" stroke="#858585" stroke-width="0.9"/>
<line x1="301.00" y1="256.60" x2="301.00" y2="258.20" stroke="#858585" stroke-width="0.9"/>
<text transform="translate(301.00,349.50) scale(1,1.12)" class="tk" text-anchor="middle">20</text>
<line x1="336.00" y1="329.40" x2="336.00" y2="327.80" stroke="#858585" stroke-width="0.9"/>
<line x1="336.00" y1="256.60" x2="336.00" y2="258.20" stroke="#858585" stroke-width="0.9"/>
<text transform="translate(336.00,349.50) scale(1,1.12)" class="tk" text-anchor="middle">40</text>
<line x1="371.00" y1="329.40" x2="371.00" y2="327.80" stroke="#858585" stroke-width="0.9"/>
<line x1="371.00" y1="256.60" x2="371.00" y2="258.20" stroke="#858585" stroke-width="0.9"/>
<text transform="translate(371.00,349.50) scale(1,1.12)" class="tk" text-anchor="middle">60</text>
<line x1="406.00" y1="329.40" x2="406.00" y2="327.80" stroke="#858585" stroke-width="0.9"/>
<line x1="406.00" y1="256.60" x2="406.00" y2="258.20" stroke="#858585" stroke-width="0.9"/>
<text transform="translate(406.00,349.50) scale(1,1.12)" class="tk" text-anchor="middle">80</text>
<line x1="266.00" y1="329.40" x2="267.60" y2="329.40" stroke="#858585" stroke-width="0.9"/>
<line x1="423.50" y1="329.40" x2="421.90" y2="329.40" stroke="#858585" stroke-width="0.9"/>
<text transform="translate(260.60,335.00) scale(1,1.12)" class="tk" text-anchor="end">0</text>
<line x1="266.00" y1="300.28" x2="267.60" y2="300.28" stroke="#858585" stroke-width="0.9"/>
<line x1="423.50" y1="300.28" x2="421.90" y2="300.28" stroke="#858585" stroke-width="0.9"/>
<text transform="translate(260.60,305.88) scale(1,1.12)" class="tk" text-anchor="end">10</text>
<line x1="266.00" y1="271.16" x2="267.60" y2="271.16" stroke="#858585" stroke-width="0.9"/>
<line x1="423.50" y1="271.16" x2="421.90" y2="271.16" stroke="#858585" stroke-width="0.9"/>
<text transform="translate(260.60,276.76) scale(1,1.12)" class="tk" text-anchor="end">20</text>
<path d="M266.0,326.6L362.2,326.7L392.2,326.9L423.5,326.9" fill="none" stroke="#2a6ac0" stroke-width="1.60" stroke-linejoin="round" stroke-linecap="butt"/>
<path d="M266.0,322.4L356.2,322.8L378.0,323.1L386.8,323.4L396.7,324.1L408.4,325.2L423.5,327.0" fill="none" stroke="#d5511d" stroke-width="1.60" stroke-linejoin="round" stroke-linecap="butt"/>
<path d="M266.0,317.8L327.2,318.6L349.9,318.7L365.4,319.2L385.0,320.9L389.9,321.5L423.5,326.6" fill="none" stroke="#ecb22a" stroke-width="1.60" stroke-linejoin="round" stroke-linecap="butt"/>
<path d="M266.0,311.6L327.2,313.7L342.8,313.9L350.2,314.3L354.3,314.8L364.5,316.3L374.4,318.3L380.5,319.3L385.0,319.9L404.9,323.6L415.1,325.3L423.5,326.5" fill="none" stroke="#7b2e8b" stroke-width="1.60" stroke-linejoin="round" stroke-linecap="butt"/>
<path d="M266.0,302.9L312.2,306.4L327.2,307.6L335.0,308.0L339.3,308.5L342.6,309.0L346.0,309.9L349.0,310.8L357.8,313.8L374.9,318.2L379.8,319.2L385.0,320.0L404.9,323.7L415.0,325.3L423.5,326.5" fill="none" stroke="#76ab36" stroke-width="1.60" stroke-linejoin="round" stroke-linecap="butt"/>
<path d="M266.0,293.0L306.1,298.7L314.0,300.0L320.5,301.2L327.2,302.8L329.6,303.3L335.8,305.0L340.1,306.6L352.5,312.0L356.4,313.5L359.3,314.4L373.4,318.3L380.2,319.7L385.0,320.4L404.0,323.8L414.5,325.4L423.5,326.5" fill="none" stroke="#55bdeb" stroke-width="1.60" stroke-linejoin="round" stroke-linecap="butt"/>
<path d="M266.0,282.5L296.0,289.6L302.5,291.4L307.5,292.9L314.6,295.7L326.3,300.8L329.0,301.9L336.3,305.0L353.1,312.8L356.4,314.1L359.4,315.0L373.0,318.8L380.2,320.3L405.0,324.3L415.0,325.6L423.5,326.6" fill="none" stroke="#a41b33" stroke-width="1.60" stroke-linejoin="round" stroke-linecap="butt"/>
<path d="M266.0,273.5L286.0,280.4L292.2,282.7L297.2,284.8L303.4,287.9L317.1,296.0L325.9,300.7L350.2,312.1L354.0,313.7L357.1,314.9L372.8,319.3L380.6,320.9L404.8,324.5L414.9,325.7L423.5,326.6" fill="none" stroke="#2a6ac0" stroke-width="1.60" stroke-linejoin="round" stroke-linecap="butt"/>
<path d="M266.0,265.6L273.0,268.9L279.0,271.9L284.5,274.9L290.1,278.1L294.9,281.1L300.0,284.3L309.1,290.8L314.0,294.1L318.9,297.2L325.1,300.7L331.7,304.1L337.3,306.6L346.0,310.8L355.1,314.8L358.9,316.1L372.4,319.8L380.9,321.6L404.6,324.8L414.8,325.9L423.5,326.7" fill="none" stroke="#d5511d" stroke-width="1.60" stroke-linejoin="round" stroke-linecap="butt"/>
<path d="M266.0,259.2L297.8,282.2L312.0,293.1L317.2,296.7L322.7,300.3L327.1,303.1L330.8,305.1L337.4,308.2L345.4,312.0L352.8,315.4L355.7,316.5L358.3,317.4L371.9,321.2L376.6,322.3L382.0,323.3L386.6,323.9L404.4,325.6L414.7,326.3L423.5,326.8" fill="none" stroke="#ecb22a" stroke-width="1.60" stroke-linejoin="round" stroke-linecap="butt"/>
<rect x="266.00" y="374.60" width="157.50" height="73.00" fill="none" stroke="#858585" stroke-width="1.05"/>
<line x1="266.00" y1="447.60" x2="266.00" y2="446.00" stroke="#858585" stroke-width="0.9"/>
<line x1="266.00" y1="374.60" x2="266.00" y2="376.20" stroke="#858585" stroke-width="0.9"/>
<text transform="translate(266.00,467.70) scale(1,1.12)" class="tk" text-anchor="middle">0</text>
<line x1="301.00" y1="447.60" x2="301.00" y2="446.00" stroke="#858585" stroke-width="0.9"/>
<line x1="301.00" y1="374.60" x2="301.00" y2="376.20" stroke="#858585" stroke-width="0.9"/>
<text transform="translate(301.00,467.70) scale(1,1.12)" class="tk" text-anchor="middle">20</text>
<line x1="336.00" y1="447.60" x2="336.00" y2="446.00" stroke="#858585" stroke-width="0.9"/>
<line x1="336.00" y1="374.60" x2="336.00" y2="376.20" stroke="#858585" stroke-width="0.9"/>
<text transform="translate(336.00,467.70) scale(1,1.12)" class="tk" text-anchor="middle">40</text>
<line x1="371.00" y1="447.60" x2="371.00" y2="446.00" stroke="#858585" stroke-width="0.9"/>
<line x1="371.00" y1="374.60" x2="371.00" y2="376.20" stroke="#858585" stroke-width="0.9"/>
<text transform="translate(371.00,467.70) scale(1,1.12)" class="tk" text-anchor="middle">60</text>
<line x1="406.00" y1="447.60" x2="406.00" y2="446.00" stroke="#858585" stroke-width="0.9"/>
<line x1="406.00" y1="374.60" x2="406.00" y2="376.20" stroke="#858585" stroke-width="0.9"/>
<text transform="translate(406.00,467.70) scale(1,1.12)" class="tk" text-anchor="middle">80</text>
<line x1="266.00" y1="447.60" x2="267.60" y2="447.60" stroke="#858585" stroke-width="0.9"/>
<line x1="423.50" y1="447.60" x2="421.90" y2="447.60" stroke="#858585" stroke-width="0.9"/>
<text transform="translate(260.60,453.20) scale(1,1.12)" class="tk" text-anchor="end">0</text>
<line x1="266.00" y1="374.60" x2="267.60" y2="374.60" stroke="#858585" stroke-width="0.9"/>
<line x1="423.50" y1="374.60" x2="421.90" y2="374.60" stroke="#858585" stroke-width="0.9"/>
<text transform="translate(260.60,380.20) scale(1,1.12)" class="tk" text-anchor="end">50</text>
<path d="M266.0,447.6L267.4,447.6L286.6,438.6L347.2,410.0L407.4,381.3L412.3,379.2L416.2,377.8L419.7,376.9L423.5,376.3" fill="none" stroke="#2a6ac0" stroke-width="1.60" stroke-linejoin="round" stroke-linecap="butt"/>
<path d="M266.0,447.6L267.2,447.6L387.7,388.6L397.7,383.9L404.5,381.0L410.6,379.0L416.7,377.5L423.5,376.4" fill="none" stroke="#d5511d" stroke-width="1.60" stroke-linejoin="round" stroke-linecap="butt"/>
<path d="M266.0,447.6L267.2,447.6L278.1,442.1L302.1,430.0L359.5,400.5L373.2,393.6L380.8,390.1L387.5,387.2L392.4,385.3L397.8,383.3L402.8,381.7L407.6,380.4L412.8,379.1L418.0,378.1L423.5,377.2" fill="none" stroke="#ecb22a" stroke-width="1.60" stroke-linejoin="round" stroke-linecap="butt"/>
<path d="M266.0,447.3L279.2,440.9L292.9,433.9L307.5,426.1L327.2,415.2L357.7,398.9L369.1,393.1L374.4,390.5L380.5,388.0L387.2,385.6L393.3,383.6L399.2,381.9L404.7,380.5L410.6,379.3L417.0,378.2L423.5,377.3" fill="none" stroke="#7b2e8b" stroke-width="1.60" stroke-linejoin="round" stroke-linecap="butt"/>
<path d="M266.0,447.6L278.1,441.6L292.3,434.0L327.2,413.9L341.0,406.4L357.1,396.9L361.8,394.5L370.6,390.4L375.5,388.4L381.2,386.3L388.8,384.1L396.5,382.1L402.8,380.6L409.0,379.4L416.2,378.2L423.5,377.3" fill="none" stroke="#76ab36" stroke-width="1.60" stroke-linejoin="round" stroke-linecap="butt"/>
<path d="M266.0,447.6L273.2,444.0L280.6,440.1L297.3,430.7L312.2,422.0L332.2,409.8L351.9,397.4L356.8,394.6L361.5,392.4L369.6,388.9L374.3,387.0L380.6,385.0L388.1,383.0L397.2,380.9L404.9,379.4L414.1,378.1L423.5,377.0" fill="none" stroke="#55bdeb" stroke-width="1.60" stroke-linejoin="round" stroke-linecap="butt"/>
<path d="M266.0,447.0L273.4,443.1L281.2,438.9L298.0,429.2L307.5,423.3L326.8,410.3L342.2,400.6L351.6,395.0L355.2,393.1L358.3,391.6L363.6,389.4L372.4,386.1L377.9,384.4L383.4,383.0L393.3,380.9L403.3,379.1L413.2,377.8L423.5,376.7" fill="none" stroke="#a41b33" stroke-width="1.60" stroke-linejoin="round" stroke-linecap="butt"/>
<path d="M266.0,446.7L273.3,442.7L280.7,438.6L287.9,434.3L294.5,430.1L302.6,424.7L320.7,411.6L326.0,408.0L331.5,404.5L345.5,396.3L351.8,392.9L356.4,390.6L361.4,388.7L371.7,385.0L377.1,383.5L382.9,382.1L391.8,380.4L403.2,378.6L413.2,377.5L423.5,376.6" fill="none" stroke="#2a6ac0" stroke-width="1.60" stroke-linejoin="round" stroke-linecap="butt"/>
<path d="M266.0,446.9L276.7,440.2L287.1,433.3L296.8,426.3L313.6,413.5L319.0,409.8L325.0,405.7L331.8,401.6L341.7,396.1L347.7,392.9L353.9,389.9L359.6,387.7L370.2,384.2L375.5,382.7L382.0,381.3L389.9,380.0L402.9,378.2L413.1,377.2L423.5,376.4" fill="none" stroke="#d5511d" stroke-width="1.60" stroke-linejoin="round" stroke-linecap="butt"/>
<path d="M266.0,446.1L276.6,438.5L290.8,427.9L311.6,412.1L317.0,408.3L322.3,404.6L327.8,401.1L332.4,398.4L343.7,392.6L351.4,389.0L355.0,387.4L358.2,386.3L368.3,383.2L374.3,381.6L381.9,380.0L388.7,379.0L402.7,377.5L412.9,376.8L423.5,376.3" fill="none" stroke="#ecb22a" stroke-width="1.60" stroke-linejoin="round" stroke-linecap="butt"/>
<text x="115.03" y="12.70" class="ti" text-anchor="middle" textLength="137.0" lengthAdjust="spacingAndGlyphs">Force-extension curve</text>
<text x="115.03" y="131.20" class="ti" text-anchor="middle" textLength="97.6" lengthAdjust="spacingAndGlyphs">Intact elements</text>
<text x="115.03" y="249.70" class="ti" text-anchor="middle" textLength="162.0" lengthAdjust="spacingAndGlyphs">Partially broken elements</text>
<text x="115.03" y="367.70" class="ti" text-anchor="middle" textLength="180.0" lengthAdjust="spacingAndGlyphs">Completely broken elements</text>
<text x="344.75" y="12.70" class="ti" text-anchor="middle" textLength="137.0" lengthAdjust="spacingAndGlyphs">Force-extension curve</text>
<text x="344.75" y="131.20" class="ti" text-anchor="middle" textLength="97.6" lengthAdjust="spacingAndGlyphs">Intact elements</text>
<text x="344.75" y="249.70" class="ti" text-anchor="middle" textLength="162.0" lengthAdjust="spacingAndGlyphs">Partially broken elements</text>
<text x="344.75" y="367.70" class="ti" text-anchor="middle" textLength="180.0" lengthAdjust="spacingAndGlyphs">Completely broken elements</text>
<text x="2" y="11" class="mi" font-size="14">a</text><text x="10.1" y="11" class="ti2" font-size="14">)</text>
<text x="227.5" y="10.6" class="mi" font-size="14">b</text><text x="234.4" y="10.6" class="ti2" font-size="14">)</text>
<text x="99.90" y="35.60" class="mi" font-size="14" textLength="12.9" lengthAdjust="spacingAndGlyphs">N</text><text x="116.60" y="37.50" class="ti2" font-size="14" textLength="11.6" lengthAdjust="spacingAndGlyphs">=</text><text x="131.70" y="35.80" class="ti2" font-size="14" textLength="8.9" lengthAdjust="spacingAndGlyphs">5</text>
<text x="320.20" y="39.30" class="mi" font-size="14" textLength="12.9" lengthAdjust="spacingAndGlyphs">N</text><text x="337.00" y="41.20" class="ti2" font-size="14" textLength="11.8" lengthAdjust="spacingAndGlyphs">=</text><text x="351.90" y="39.50" class="ti2" font-size="14" textLength="17.2" lengthAdjust="spacingAndGlyphs">50</text>
<line x1="62.20" y1="29.90" x2="57.83" y2="58.82" stroke="#000" stroke-width="0.8"/><path d="M56.61,66.89 L54.28,56.23 L57.83,58.82 L61.99,57.39 Z" fill="#000"/>
<text x="52.40" y="80.50" class="mi" font-size="14" textLength="9.2" lengthAdjust="spacingAndGlyphs">T</text>
<line x1="80.70" y1="150.20" x2="70.20" y2="181.53" stroke="#000" stroke-width="0.8"/><path d="M67.61,189.27 L67.15,178.36 L70.20,181.53 L74.55,180.84 Z" fill="#000"/>
<text x="53.60" y="200.50" class="mi" font-size="14" textLength="9.2" lengthAdjust="spacingAndGlyphs">T</text>
<line x1="79.60" y1="325.00" x2="101.28" y2="282.24" stroke="#000" stroke-width="0.8"/><path d="M104.97,274.96 L103.84,285.83 L101.28,282.24 L96.88,282.30 Z" fill="#000"/>
<text x="110.50" y="274.90" class="mi" font-size="14" textLength="9.2" lengthAdjust="spacingAndGlyphs">T</text>
<line x1="105.70" y1="426.00" x2="93.96" y2="405.56" stroke="#000" stroke-width="0.8"/><path d="M89.90,398.48 L98.36,405.38 L93.96,405.56 L91.60,409.27 Z" fill="#000"/>
<text x="77.10" y="402.30" class="mi" font-size="14" textLength="9.2" lengthAdjust="spacingAndGlyphs">T</text>
<line x1="295.80" y1="46.20" x2="316.52" y2="73.39" stroke="#000" stroke-width="0.8"/><path d="M321.46,79.88 L312.18,74.13 L316.52,73.39 L318.38,69.40 Z" fill="#000"/>
<text x="324.00" y="88.50" class="mi" font-size="14" textLength="9.2" lengthAdjust="spacingAndGlyphs">T</text>
<line x1="327.70" y1="157.90" x2="287.48" y2="190.44" stroke="#000" stroke-width="0.8"/><path d="M281.13,195.58 L286.61,186.13 L287.48,190.44 L291.52,192.19 Z" fill="#000"/>
<text x="270.20" y="199.90" class="mi" font-size="14" textLength="9.2" lengthAdjust="spacingAndGlyphs">T</text>
<line x1="302.70" y1="329.40" x2="314.55" y2="285.10" stroke="#000" stroke-width="0.8"/><path d="M316.66,277.22 L317.79,288.08 L314.55,285.10 L310.25,286.07 Z" fill="#000"/>
<text x="319.10" y="277.00" class="mi" font-size="14" textLength="9.2" lengthAdjust="spacingAndGlyphs">T</text>
<line x1="339.20" y1="427.00" x2="321.63" y2="394.93" stroke="#000" stroke-width="0.8"/><path d="M317.71,387.77 L326.03,394.85 L321.63,394.93 L319.19,398.59 Z" fill="#000"/>
<text x="305.00" y="395.00" class="mi" font-size="14" textLength="9.2" lengthAdjust="spacingAndGlyphs">T</text>
<g transform="translate(12.40,50.90) rotate(-90)"><path d="M-7.10,-11.30 L-10.40,-3.50 L-7.10,4.30" fill="none" stroke="#000" stroke-width="0.75" stroke-linejoin="miter"/><path d="M7.50,-11.30 L10.90,-3.50 L7.50,4.30" fill="none" stroke="#000" stroke-width="0.75" stroke-linejoin="miter"/><path d="M-3.6,-7.9 C-2.6,-9.0 -1.8,-9.9 -0.8,-9.9 L5.7,-9.9" fill="none" stroke="#000" stroke-width="1.0" stroke-linecap="round"/><path d="M0.5,-9.9 L0.4,-5.2 C0.2,-2.5 -1.2,0.5 -3.1,0.7 C-4.6,0.8 -5.6,0.2 -5.8,-0.2" fill="none" stroke="#000" stroke-width="1.05" stroke-linecap="round"/><path d="M0.0,-5.2 L4.1,-5.2" fill="none" stroke="#000" stroke-width="0.95" stroke-linecap="round"/></g>
<g transform="translate(238.50,56.85) rotate(-90)"><path d="M-7.10,-11.30 L-10.40,-3.50 L-7.10,4.30" fill="none" stroke="#000" stroke-width="0.75" stroke-linejoin="miter"/><path d="M7.50,-11.30 L10.90,-3.50 L7.50,4.30" fill="none" stroke="#000" stroke-width="0.75" stroke-linejoin="miter"/><path d="M-3.6,-7.9 C-2.6,-9.0 -1.8,-9.9 -0.8,-9.9 L5.7,-9.9" fill="none" stroke="#000" stroke-width="1.0" stroke-linecap="round"/><path d="M0.5,-9.9 L0.4,-5.2 C0.2,-2.5 -1.2,0.5 -3.1,0.7 C-4.6,0.8 -5.6,0.2 -5.8,-0.2" fill="none" stroke="#000" stroke-width="1.05" stroke-linecap="round"/><path d="M0.0,-5.2 L4.1,-5.2" fill="none" stroke="#000" stroke-width="0.95" stroke-linecap="round"/></g>
<g transform="translate(10.50,174.60) rotate(-90)"><path d="M-3.90,-10.50 L-7.60,-3.50 L-3.90,3.50" fill="none" stroke="#000" stroke-width="0.75" stroke-linejoin="miter"/><path d="M4.10,-10.50 L7.80,-3.50 L4.10,3.50" fill="none" stroke="#000" stroke-width="0.75" stroke-linejoin="miter"/><text x="-0.15" y="0.00" class="mi" font-size="14" text-anchor="middle">ξ</text></g>
<g transform="translate(235.70,174.80) rotate(-90)"><path d="M-3.90,-10.50 L-7.60,-3.50 L-3.90,3.50" fill="none" stroke="#000" stroke-width="0.75" stroke-linejoin="miter"/><path d="M4.10,-10.50 L7.80,-3.50 L4.10,3.50" fill="none" stroke="#000" stroke-width="0.75" stroke-linejoin="miter"/><text x="-0.15" y="0.00" class="mi" font-size="14" text-anchor="middle">ξ</text></g>
<g transform="translate(10.50,293.00) rotate(-90)"><path d="M-17.00,-10.50 L-20.70,-3.50 L-17.00,3.50" fill="none" stroke="#000" stroke-width="0.75" stroke-linejoin="miter"/><path d="M17.20,-10.50 L20.90,-3.50 L17.20,3.50" fill="none" stroke="#000" stroke-width="0.75" stroke-linejoin="miter"/><text x="-12.25" y="0.00" class="mi" font-size="14" text-anchor="middle">η</text><text x="0.65" y="0.90" class="ti2" font-size="14" text-anchor="middle" textLength="10.5" lengthAdjust="spacingAndGlyphs">−</text><text x="12.95" y="0.00" class="mi" font-size="14" text-anchor="middle">ξ</text></g>
<g transform="translate(235.70,293.00) rotate(-90)"><path d="M-17.00,-10.50 L-20.70,-3.50 L-17.00,3.50" fill="none" stroke="#000" stroke-width="0.75" stroke-linejoin="miter"/><path d="M17.20,-10.50 L20.90,-3.50 L17.20,3.50" fill="none" stroke="#000" stroke-width="0.75" stroke-linejoin="miter"/><text x="-12.25" y="0.00" class="mi" font-size="14" text-anchor="middle">η</text><text x="0.65" y="0.90" class="ti2" font-size="14" text-anchor="middle" textLength="10.5" lengthAdjust="spacingAndGlyphs">−</text><text x="12.95" y="0.00" class="mi" font-size="14" text-anchor="middle">ξ</text></g>
<g transform="translate(10.50,411.10) rotate(-90)"><path d="M-19.60,-10.50 L-23.30,-3.50 L-19.60,3.50" fill="none" stroke="#000" stroke-width="0.75" stroke-linejoin="miter"/><path d="M20.10,-10.50 L23.80,-3.50 L20.10,3.50" fill="none" stroke="#000" stroke-width="0.75" stroke-linejoin="miter"/><text x="-12.85" y="0.00" class="mi" font-size="14" text-anchor="middle">N</text><text x="2.70" y="0.90" class="ti2" font-size="14" text-anchor="middle" textLength="10.5" lengthAdjust="spacingAndGlyphs">−</text><text x="15.40" y="0.00" class="mi" font-size="14" text-anchor="middle">η</text></g>
<g transform="translate(235.70,411.20) rotate(-90)"><path d="M-19.60,-10.50 L-23.30,-3.50 L-19.60,3.50" fill="none" stroke="#000" stroke-width="0.75" stroke-linejoin="miter"/><path d="M20.10,-10.50 L23.80,-3.50 L20.10,3.50" fill="none" stroke="#000" stroke-width="0.75" stroke-linejoin="miter"/><text x="-12.85" y="0.00" class="mi" font-size="14" text-anchor="middle">N</text><text x="2.70" y="0.90" class="ti2" font-size="14" text-anchor="middle" textLength="10.5" lengthAdjust="spacingAndGlyphs">−</text><text x="15.40" y="0.00" class="mi" font-size="14" text-anchor="middle">η</text></g>
<g transform="translate(0.00,0)"><path d="M340.3,476.6 C340.6,474.9 343.0,474.5 343.9,476.8 C344.7,479.0 345.0,481.8 344.3,484.2" fill="none" stroke="#000" stroke-width="1.35" stroke-linecap="round"/><path d="M348.5,475.4 C349.4,476.6 348.9,478.6 347.2,481.0 C345.6,483.4 343.2,485.9 340.2,487.6" fill="none" stroke="#000" stroke-width="1.0" stroke-linecap="round"/></g>
<g transform="translate(-229.50,0)"><path d="M340.3,476.6 C340.6,474.9 343.0,474.5 343.9,476.8 C344.7,479.0 345.0,481.8 344.3,484.2" fill="none" stroke="#000" stroke-width="1.35" stroke-linecap="round"/><path d="M348.5,475.4 C349.4,476.6 348.9,478.6 347.2,481.0 C345.6,483.4 343.2,485.9 340.2,487.6" fill="none" stroke="#000" stroke-width="1.0" stroke-linecap="round"/></g>
</svg></body></html>
